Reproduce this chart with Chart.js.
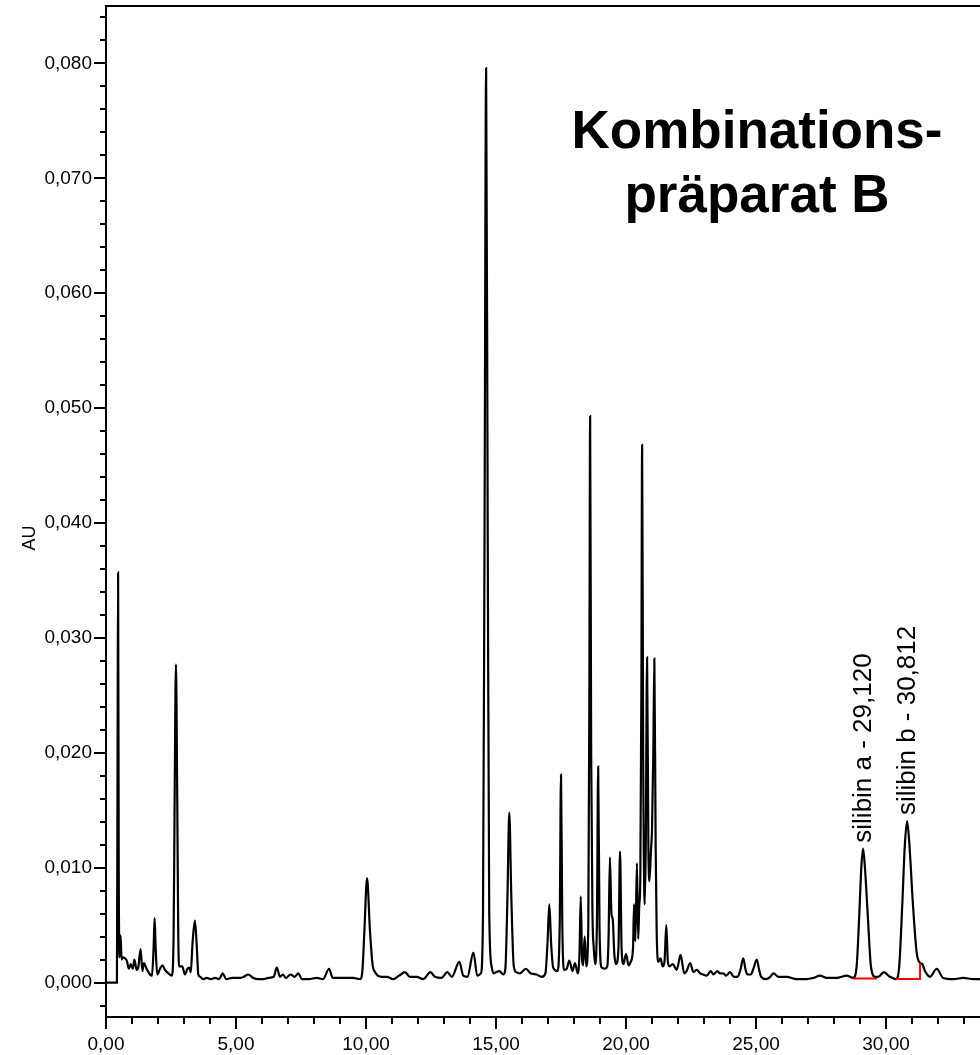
<!DOCTYPE html>
<html>
<head>
<meta charset="utf-8">
<title>Kombinationspräparat B</title>
<script src="https://cdn.jsdelivr.net/npm/chart.js@4.4.1/dist/chart.umd.min.js"></script>
<style>
  body { margin: 0; background: #fff; }
  #wrap { width: 980px; height: 1055px; }
</style>
</head>
<body>
<div id="wrap"><canvas id="chromChart"></canvas></div>
<script>
// retention time (min), absorbance (AU)
const chromatogram = [
  [0.00, 0.0000], [0.42, 0.0000], [0.445, 0.0200], [0.465, 0.0357], [0.49, 0.0100], [0.52, 0.0022],
  [0.56, 0.0041], [0.60, 0.0020], [0.66, 0.0022], [0.73, 0.0021], [0.80, 0.0019], [0.88, 0.0012],
  [0.95, 0.0016], [1.03, 0.0012], [1.09, 0.0020], [1.18, 0.0011], [1.24, 0.0013], [1.33, 0.0029],
  [1.40, 0.0010], [1.46, 0.0017], [1.56, 0.0012], [1.69, 0.0007], [1.77, 0.0006], [1.83, 0.0030],
  [1.87, 0.0056], [1.91, 0.0030], [1.97, 0.0007], [2.08, 0.0012], [2.17, 0.0015], [2.27, 0.0011],
  [2.40, 0.0008], [2.53, 0.0006], [2.60, 0.0040], [2.64, 0.0160], [2.69, 0.0277], [2.74, 0.0160],
  [2.78, 0.0040], [2.82, 0.0014], [2.93, 0.0014], [3.04, 0.0007], [3.13, 0.0012], [3.20, 0.0013],
  [3.26, 0.0009], [3.33, 0.0035], [3.42, 0.0054], [3.49, 0.0032], [3.55, 0.0007], [3.62, 0.0005],
  [3.74, 0.0003], [3.87, 0.0004], [4.03, 0.0003], [4.20, 0.0004], [4.35, 0.0003], [4.49, 0.0008],
  [4.62, 0.0003], [4.85, 0.0004], [5.15, 0.0004], [5.30, 0.0005], [5.47, 0.0007], [5.67, 0.0004],
  [5.85, 0.0003], [6.05, 0.0003], [6.25, 0.0004], [6.45, 0.0005], [6.57, 0.0013], [6.69, 0.0005],
  [6.80, 0.0007], [6.92, 0.0004], [7.10, 0.0007], [7.25, 0.0005], [7.40, 0.0008], [7.53, 0.0003],
  [7.80, 0.0003], [8.10, 0.0004], [8.35, 0.0003], [8.58, 0.0012], [8.72, 0.0004], [9.00, 0.0004],
  [9.25, 0.0004], [9.50, 0.0004], [9.77, 0.0003], [9.86, 0.0010], [9.94, 0.0046], [10.04, 0.0091],
  [10.15, 0.0046], [10.25, 0.0016], [10.35, 0.0009], [10.60, 0.0005], [10.80, 0.0005], [11.05, 0.0003],
  [11.27, 0.0006], [11.50, 0.0009], [11.69, 0.0005], [11.95, 0.0005], [12.20, 0.0003], [12.48, 0.0009],
  [12.65, 0.0005], [12.90, 0.0004], [13.13, 0.0009], [13.30, 0.0005], [13.59, 0.0018], [13.74, 0.0006],
  [13.90, 0.0005], [14.13, 0.0026], [14.28, 0.0006], [14.42, 0.0008], [14.50, 0.0060], [14.56, 0.0400],
  [14.62, 0.0796], [14.68, 0.0400], [14.74, 0.0060], [14.83, 0.0014], [14.90, 0.0008], [15.00, 0.0009],
  [15.13, 0.0010], [15.28, 0.0007], [15.36, 0.0012], [15.44, 0.0074], [15.51, 0.0148], [15.59, 0.0074],
  [15.68, 0.0015], [15.78, 0.0009], [15.92, 0.0008], [16.15, 0.0012], [16.33, 0.0008], [16.56, 0.0007],
  [16.76, 0.0005], [16.90, 0.0008], [16.98, 0.0034], [17.05, 0.0068], [17.12, 0.0034], [17.20, 0.0013],
  [17.36, 0.0010], [17.45, 0.0050], [17.50, 0.0181], [17.55, 0.0050], [17.62, 0.0011], [17.72, 0.0012],
  [17.82, 0.0019], [17.94, 0.0010], [18.04, 0.0017], [18.14, 0.0008], [18.21, 0.0025], [18.26, 0.0075],
  [18.31, 0.0020], [18.35, 0.0015], [18.41, 0.0040], [18.47, 0.0014], [18.55, 0.0050], [18.59, 0.0250],
  [18.62, 0.0493], [18.66, 0.0200], [18.71, 0.0061], [18.76, 0.0030], [18.81, 0.0016], [18.88, 0.0050],
  [18.93, 0.0188], [18.98, 0.0050], [19.06, 0.0013], [19.19, 0.0012], [19.28, 0.0014], [19.33, 0.0040],
  [19.38, 0.0109], [19.44, 0.0060], [19.49, 0.0055], [19.55, 0.0025], [19.62, 0.0016], [19.71, 0.0030],
  [19.77, 0.0114], [19.83, 0.0030], [19.90, 0.0016], [20.00, 0.0025], [20.10, 0.0015], [20.18, 0.0018],
  [20.27, 0.0030], [20.31, 0.0068], [20.36, 0.0036], [20.42, 0.0104], [20.47, 0.0038], [20.51, 0.0067],
  [20.55, 0.0090], [20.59, 0.0250], [20.62, 0.0468], [20.66, 0.0200], [20.72, 0.0068], [20.76, 0.0120],
  [20.81, 0.0283], [20.86, 0.0120], [20.90, 0.0088], [20.96, 0.0115], [21.00, 0.0133], [21.05, 0.0200],
  [21.09, 0.0282], [21.14, 0.0120], [21.18, 0.0044], [21.24, 0.0018], [21.33, 0.0021], [21.41, 0.0014],
  [21.48, 0.0018], [21.55, 0.0050], [21.61, 0.0018], [21.67, 0.0014], [21.80, 0.0016], [21.95, 0.0011],
  [22.10, 0.0024], [22.24, 0.0008], [22.33, 0.0010], [22.47, 0.0017], [22.59, 0.0009], [22.72, 0.0011],
  [22.85, 0.0008], [22.97, 0.0007], [23.10, 0.0006], [23.26, 0.0010], [23.36, 0.0007], [23.51, 0.0010],
  [23.62, 0.0008], [23.74, 0.0008], [23.85, 0.0006], [24.00, 0.0009], [24.15, 0.0005], [24.29, 0.0005],
  [24.40, 0.0011], [24.51, 0.0021], [24.60, 0.0011], [24.67, 0.0007], [24.80, 0.0007], [24.90, 0.0012],
  [25.03, 0.0020], [25.12, 0.0011], [25.20, 0.0005], [25.38, 0.0003], [25.55, 0.0005], [25.67, 0.0008],
  [25.86, 0.0005], [26.18, 0.0005], [26.56, 0.0003], [26.95, 0.0003], [27.20, 0.0004], [27.46, 0.0006],
  [27.72, 0.0004], [28.10, 0.0004], [28.49, 0.0006], [28.74, 0.0004], [28.87, 0.0014], [28.97, 0.0058],
  [29.05, 0.0100], [29.12, 0.01165], [29.19, 0.0100], [29.30, 0.0058], [29.42, 0.0014], [29.58, 0.0005],
  [29.70, 0.0005], [29.92, 0.0009], [30.15, 0.0005], [30.38, 0.0003], [30.50, 0.0012], [30.63, 0.0070],
  [30.72, 0.0118], [30.812, 0.01405], [30.90, 0.0120], [31.03, 0.0070], [31.18, 0.0026], [31.31, 0.0017],
  [31.40, 0.0016], [31.50, 0.0010], [31.69, 0.0005], [31.95, 0.0012], [32.20, 0.0004], [32.60, 0.0003],
  [32.97, 0.0004], [33.36, 0.0003], [33.80, 0.0003]
];

// integration baselines drawn under the two silibin peaks
const baselineA = [[28.74, 0.00035], [29.65, 0.00035]];
const baselineB = [[30.38, 0.0003], [31.31, 0.0003], [31.31, 0.0017]];

// labelled peaks
const peakNames = ['silibin a', 'silibin b'];
const peakTimes = [29.120, 30.812];
const peakHeights = [0.01165, 0.01405];

// axes
const xMajorTicks = [0, 5, 10, 15, 20, 25, 30];
const xTickLabels = ['0,00', '5,00', '10,00', '15,00', '20,00', '25,00', '30,00'];
const yMajorTicks = [0, 0.01, 0.02, 0.03, 0.04, 0.05, 0.06, 0.07, 0.08];
const yTickLabels = ['0,000', '0,010', '0,020', '0,030', '0,040', '0,050', '0,060', '0,070', '0,080'];
const yAxisTitle = 'AU';
const titleLines = ['Kombinations-', 'präparat B'];

const X_MIN = 0, X_MAX = 33.615;
const Y_MIN = -0.003, Y_MAX = 0.085;

const FONT = 'Arial, "Liberation Sans", Helvetica, sans-serif';

// minor tick positions: 1 min on x, 0.002 AU on y
const xMinorTicks = [];
for (let i = 1; i <= 33; i++) if (i % 5 !== 0) xMinorTicks.push(i);
const yMinorTicks = [];
for (let i = -1; i <= 42; i++) if (i % 5 !== 0) yMinorTicks.push(i * 0.002);

const toPoints = arr => arr.map(([x, y]) => ({ x, y }));

function strokeLine(ctx, x1, y1, x2, y2) {
    ctx.beginPath();
    ctx.moveTo(x1, y1);
    ctx.lineTo(x2, y2);
    ctx.stroke();
}

// tick marks, frame top, axis title, big heading and peak labels
const decorPlugin = {
    id: 'decor',
    afterDraw(chart) {
        const { ctx, chartArea: a, scales: { x, y } } = chart;
        ctx.save();
        ctx.strokeStyle = '#000';
        ctx.fillStyle = '#000';
        ctx.lineWidth = 2;
        strokeLine(ctx, a.left - 1, a.top, a.right, a.top);

        yMajorTicks.forEach(v => { const p = Math.round(y.getPixelForValue(v)); strokeLine(ctx, a.left - 12, p, a.left, p); });
        yMinorTicks.forEach(v => { const p = Math.round(y.getPixelForValue(v)); strokeLine(ctx, a.left - 6, p, a.left, p); });
        xMajorTicks.forEach(v => { const p = Math.round(x.getPixelForValue(v)); strokeLine(ctx, p, a.bottom, p, a.bottom + 12); });
        xMinorTicks.forEach(v => { const p = Math.round(x.getPixelForValue(v)); strokeLine(ctx, p, a.bottom, p, a.bottom + 7); });

        // y axis title
        ctx.save();
        ctx.translate(30, 538);
        ctx.rotate(-Math.PI / 2);
        ctx.font = '18px ' + FONT;
        ctx.textAlign = 'center';
        ctx.textBaseline = 'middle';
        ctx.fillText(yAxisTitle, 0, 0);
        ctx.restore();

        // heading
        ctx.font = 'bold 53px ' + FONT;
        ctx.textAlign = 'center';
        ctx.textBaseline = 'alphabetic';
        titleLines.forEach((t, i) => ctx.fillText(t, 757, 148 + i * 64));

        // vertical peak labels above each apex
        ctx.font = '26px ' + FONT;
        peakNames.forEach((name, i) => {
            const px = x.getPixelForValue(peakTimes[i]);
            const py = y.getPixelForValue(peakHeights[i]);
            const text = name + ' - ' + peakTimes[i].toFixed(3).replace('.', ',');
            ctx.save();
            ctx.translate(px + 1, py - 6);
            ctx.rotate(-Math.PI / 2);
            ctx.textAlign = 'left';
            ctx.textBaseline = 'middle';
            ctx.fillText(text, 0, 0);
            ctx.restore();
        });
        ctx.restore();
    }
};

new Chart(document.getElementById('chromChart'), {
    type: 'line',
    data: {
        datasets: [
            {
                data: toPoints(baselineA),
                borderColor: '#ff0000',
                borderWidth: 2,
                pointRadius: 0,
                tension: 0,
                order: 0
            },
            {
                data: toPoints(baselineB),
                borderColor: '#ff0000',
                borderWidth: 2,
                pointRadius: 0,
                tension: 0,
                order: 0
            },
            {
                data: toPoints(chromatogram),
                borderColor: '#000',
                borderWidth: 2.2,
                pointRadius: 0,
                cubicInterpolationMode: 'monotone',
                order: 1
            }
        ]
    },
    options: {
        responsive: true,
        maintainAspectRatio: false,
        animation: false,
        layout: { padding: { top: 6, right: 0, bottom: 0, left: 0 } },
        plugins: {
            legend: { display: false },
            tooltip: { enabled: false }
        },
        scales: {
            x: {
                type: 'linear',
                min: X_MIN,
                max: X_MAX,
                afterBuildTicks: s => { s.ticks = xMajorTicks.map(v => ({ value: v })); },
                afterFit: s => { s.height = 38; s.paddingLeft = 0; s.paddingRight = 0; },
                grid: { display: false, drawTicks: false },
                border: { display: true, color: '#000', width: 2 },
                ticks: {
                    autoSkip: false,
                    maxRotation: 0,
                    padding: 16,
                    color: '#000',
                    font: { family: FONT, size: 19 },
                    callback: v => xTickLabels[xMajorTicks.indexOf(v)]
                }
            },
            y: {
                type: 'linear',
                min: Y_MIN,
                max: Y_MAX,
                afterBuildTicks: s => { s.ticks = yMajorTicks.map(v => ({ value: v })); },
                afterFit: s => { s.width = 106; s.paddingTop = 0; s.paddingBottom = 0; },
                grid: { display: false, drawTicks: false },
                border: { display: true, color: '#000', width: 2 },
                ticks: {
                    autoSkip: false,
                    padding: 14,
                    color: '#000',
                    font: { family: FONT, size: 19 },
                    callback: v => yTickLabels[yMajorTicks.indexOf(v)]
                }
            }
        }
    },
    plugins: [decorPlugin]
});
</script>
</body>
</html>
